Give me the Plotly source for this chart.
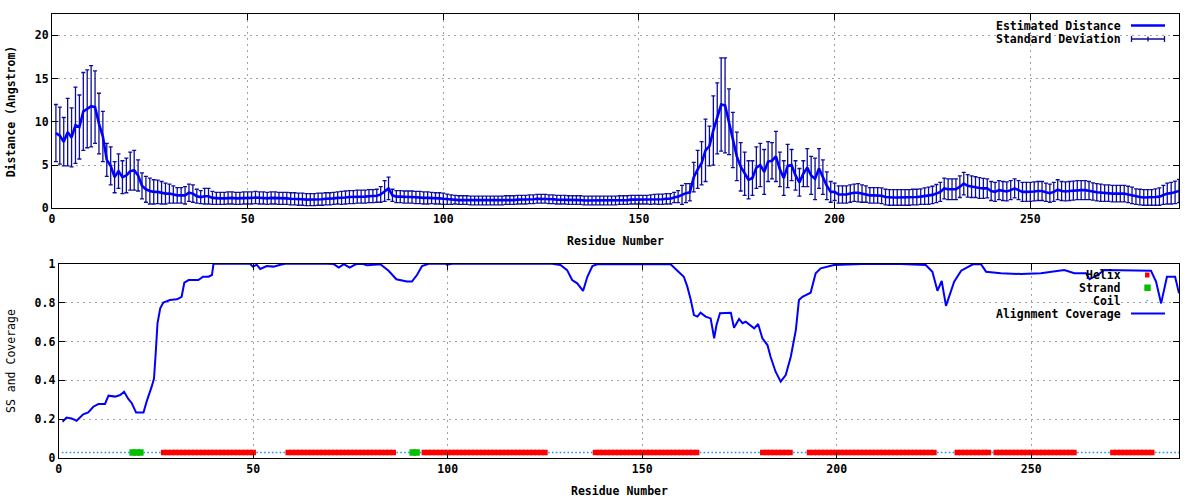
import plotly.graph_objects as go

# ---------------- data ----------------
residues = list(range(1, 289))

est_distance = [
    8.7, 8.4, 7.7, 8.8, 8.2, 9.6, 9.4, 11.2, 11.5, 11.8,
    11.7, 9.8, 8.3, 5.6, 4.9, 3.6, 4.3, 3.6, 3.8, 4.3,
    4.4, 3.8, 2.6, 2.2, 2.0, 1.9, 1.9, 1.8, 1.7, 1.7,
    1.6, 1.5, 1.5, 1.5, 1.8, 1.7, 1.4, 1.3, 1.4, 1.4,
    1.2, 1.15, 1.15, 1.15, 1.2, 1.2, 1.15, 1.15, 1.2, 1.2,
    1.2, 1.25, 1.2, 1.2, 1.15, 1.2, 1.2, 1.15, 1.15, 1.15,
    1.1, 1.1, 1.05, 1.05, 1.0, 1.0, 1.0, 1.05, 1.05, 1.1,
    1.1, 1.15, 1.2, 1.2, 1.25, 1.3, 1.3, 1.35, 1.35, 1.35,
    1.4, 1.4, 1.45, 1.6, 2.0, 2.3, 1.5, 1.35, 1.35, 1.3,
    1.3, 1.3, 1.25, 1.25, 1.2, 1.2, 1.2, 1.15, 1.15, 1.1,
    1.05, 1.0, 1.0, 0.95, 0.95, 0.95, 0.9, 0.9, 0.9, 0.9,
    0.9, 0.9, 0.9, 0.9, 0.9, 0.95, 0.95, 0.95, 1.0, 1.0,
    1.0, 1.05, 1.05, 1.1, 1.1, 1.1, 1.05, 1.05, 1.0, 1.0,
    1.0, 0.95, 0.95, 0.95, 0.95, 0.9, 0.9, 0.9, 0.9, 0.9,
    0.9, 0.9, 0.9, 0.9, 0.95, 0.95, 0.95, 1.0, 1.0, 1.0,
    1.0, 1.0, 1.0, 1.05, 1.05, 1.05, 1.1, 1.1, 1.25, 1.35,
    1.55, 1.75, 1.85, 3.6, 4.5, 5.2, 6.7, 7.2, 9.0, 10.4,
    12.0, 11.9, 10.0, 7.9, 6.0, 4.8, 4.0, 3.3, 3.5, 4.7,
    5.0, 4.2, 5.4, 5.5, 6.0, 4.5, 3.5, 4.9, 5.0, 3.8,
    3.0, 4.0, 4.7, 3.8, 3.4, 4.6, 3.6, 2.6, 1.9, 1.9,
    1.6, 1.6, 1.6, 1.7, 1.8, 1.8, 1.7, 1.65, 1.5, 1.5,
    1.5, 1.45, 1.3, 1.25, 1.25, 1.25, 1.25, 1.25, 1.25, 1.3,
    1.3, 1.35, 1.4, 1.45, 1.55, 1.7, 1.9, 2.3, 2.2, 2.2,
    2.2, 2.5, 2.85, 2.6, 2.5, 2.45, 2.35, 2.3, 2.3, 2.0,
    1.9, 2.1, 2.0, 1.95, 2.1, 2.3, 2.1, 1.9, 1.9, 1.9,
    1.95, 2.0, 2.0, 1.85, 1.75, 1.9, 2.15, 2.0, 1.95, 2.0,
    2.05, 2.1, 2.1, 2.1, 2.05, 1.95, 1.85, 1.8, 1.75, 1.75,
    1.7, 1.7, 1.7, 1.7, 1.6, 1.5, 1.35, 1.3, 1.25, 1.25,
    1.25, 1.3, 1.35, 1.55, 1.7, 1.75, 1.85, 2.0,
]

std_dev = [
    3.3, 3.3, 2.8, 3.9, 3.4, 4.4, 3.7, 4.5, 4.5, 4.7,
    4.2, 3.5, 2.9, 1.9, 2.2, 1.8, 2.0, 1.9, 2.0, 2.2,
    2.3, 1.8, 1.5, 1.5, 1.5, 1.4, 1.35, 1.3, 1.2, 1.1,
    1.0, 0.9, 0.9, 1.0, 1.0, 1.0, 0.8, 0.75, 0.9, 0.9,
    0.75, 0.7, 0.7, 0.7, 0.7, 0.7, 0.7, 0.7, 0.7, 0.7,
    0.7, 0.7, 0.7, 0.7, 0.7, 0.7, 0.7, 0.7, 0.7, 0.7,
    0.7, 0.7, 0.7, 0.7, 0.7, 0.7, 0.7, 0.7, 0.7, 0.7,
    0.7, 0.7, 0.7, 0.75, 0.75, 0.75, 0.75, 0.75, 0.75, 0.75,
    0.75, 0.75, 0.75, 0.9, 1.2, 1.3, 0.7, 0.7, 0.7, 0.7,
    0.7, 0.7, 0.7, 0.7, 0.7, 0.7, 0.65, 0.65, 0.65, 0.65,
    0.6, 0.55, 0.5, 0.5, 0.5, 0.5, 0.5, 0.5, 0.5, 0.5,
    0.5, 0.5, 0.5, 0.5, 0.5, 0.5, 0.5, 0.5, 0.5, 0.5,
    0.5, 0.5, 0.5, 0.5, 0.5, 0.5, 0.5, 0.5, 0.5, 0.5,
    0.5, 0.5, 0.5, 0.5, 0.5, 0.5, 0.5, 0.5, 0.5, 0.5,
    0.5, 0.5, 0.5, 0.5, 0.5, 0.5, 0.5, 0.5, 0.5, 0.5,
    0.5, 0.5, 0.55, 0.55, 0.6, 0.6, 0.6, 0.6, 0.6, 0.7,
    1.1, 1.1, 1.0, 1.7, 2.2, 2.5, 3.6, 2.3, 4.0, 4.1,
    5.4, 5.5, 3.8, 3.2, 2.8, 2.8, 2.5, 2.2, 2.0, 2.4,
    2.5, 2.6, 2.3, 2.1, 2.9, 2.0, 2.0, 2.5, 1.8, 1.7,
    1.6, 1.5, 2.2, 2.2, 2.4, 2.3, 2.0, 1.6, 1.2, 1.0,
    1.0, 1.0, 1.0, 1.0, 1.0, 1.05, 1.0, 0.95, 0.9, 0.9,
    0.9, 0.9, 0.9, 0.9, 0.9, 0.9, 0.9, 0.9, 0.9, 0.9,
    0.9, 0.9, 0.95, 1.0, 1.0, 1.05, 1.1, 1.2, 1.2, 1.2,
    1.2, 1.25, 1.3, 1.3, 1.25, 1.2, 1.2, 1.15, 1.1, 1.1,
    1.1, 1.1, 1.1, 1.1, 1.1, 1.1, 1.1, 1.1, 1.1, 1.1,
    1.1, 1.1, 1.1, 1.05, 1.05, 1.1, 1.15, 1.1, 1.1, 1.1,
    1.1, 1.1, 1.1, 1.1, 1.05, 1.0, 1.0, 1.0, 0.95, 0.95,
    0.95, 0.95, 0.95, 0.95, 0.95, 0.95, 0.9, 0.9, 0.9, 0.9,
    0.9, 0.95, 1.0, 1.1, 1.2, 1.25, 1.3, 1.35,
]

cov_residue = [
    1, 2, 3.3, 4.6, 6.3, 7.6, 8.9, 10.2, 11.9, 12.8, 14.5, 15.8, 16.8, 17.9,
    18.8, 19.9, 21.8, 22.6, 23.9, 24.5, 25.0, 25.4, 26.1, 26.9, 28.6, 30.4,
    31.6, 32.3, 33.4, 35.9, 37.1, 38.5, 39.4, 39.8, 49.2, 49.9, 50.9, 51.8,
    53.5, 55.2, 57, 58.2, 69, 70.7, 72, 73.3, 74.8, 76.3, 78, 79.3, 82.7,
    84.8, 86.8, 89.5, 90.8, 92.1, 93.4, 95.1, 99.4, 99.8, 101.1, 126.9, 129,
    130.7, 132, 133.3, 134.8, 135.9, 137.2, 138.4, 157.3, 159, 160.7, 161.6,
    162.5, 163.3, 164.2, 165, 166.3, 167.6, 168.5, 169.1, 170, 172.8, 173.6,
    174.9, 175.8, 176.6, 178.8, 179.8, 180.9, 182.2, 183.0, 184.3, 185.6,
    186.9, 188.2, 189.5, 190.3, 191.2, 193.3, 194.6, 195.9, 199.3, 203.6,
    208.3, 216.5, 222.9, 224.6, 225.9, 227, 228.1, 230.2, 232, 235, 237.1,
    238.4, 242.2, 247.4, 252.5, 258.5, 261.1, 264.1, 265, 267.1, 268.8,
    280.8, 282.1, 283.4, 284.9, 287, 288,
]
cov_value = [
    0.188, 0.209, 0.205, 0.193, 0.226, 0.236, 0.265, 0.279, 0.279, 0.322,
    0.317, 0.325, 0.342, 0.305, 0.283, 0.235, 0.235, 0.291, 0.368, 0.41,
    0.56, 0.694, 0.771, 0.80, 0.813, 0.817, 0.830, 0.903, 0.916, 0.916,
    0.933, 0.933, 0.942, 1.0, 1.0, 0.985, 0.995, 0.973, 0.988, 0.985,
    0.995, 1.0, 1.0, 0.998, 0.98, 0.998, 0.98, 0.997, 1.0, 0.992, 0.997,
    0.964, 0.92, 0.908, 0.908, 0.942, 0.988, 1.0, 1.0, 0.995, 1.0, 1.0,
    0.993, 0.967, 0.916, 0.899, 0.86, 0.933, 0.988, 0.997, 0.997, 0.964,
    0.933, 0.882, 0.813, 0.736, 0.728, 0.748, 0.728, 0.719, 0.617, 0.685,
    0.745, 0.748, 0.671, 0.716, 0.694, 0.702, 0.668, 0.690, 0.617, 0.582,
    0.522, 0.445, 0.394, 0.428, 0.522, 0.659, 0.813, 0.83, 0.851, 0.951,
    0.976, 0.993, 0.998, 1.0, 0.998, 0.993, 0.959, 0.861, 0.911, 0.783,
    0.908, 0.964, 0.997, 0.997, 0.959, 0.951, 0.947, 0.951, 0.968, 0.951,
    0.951, 0.92, 0.942, 0.968, 0.964, 0.908, 0.796, 0.933, 0.933, 0.848,
]

helix_segments = [(27, 50), (59, 86), (94, 125), (138, 164), (181, 188),
                  (193, 225), (231, 239), (241, 261), (271, 281)]
strand_segments = [(19, 21), (91, 92)]
ss_level = 0.03

x_ticks = [0, 50, 100, 150, 200, 250]
y_ticks_top = [0, 5, 10, 15, 20]
y_ticks_bottom = [0, 0.2, 0.4, 0.6, 0.8, 1]

# ---------------- derived SS lists ----------------
helix_res = [r for a, b in helix_segments for r in range(a, b + 1)]
strand_res = [r for a, b in strand_segments for r in range(a, b + 1)]
coil_res = [r for r in residues if r not in helix_res and r not in strand_res]

W, H = 1200, 500
FONT = "DejaVu Sans Mono"
FS = 11.5

def px(x):
    return x / W

def py(y):
    return 1 - y / H

fig = go.Figure()

# top plot
fig.add_trace(go.Scatter(
    x=residues, y=est_distance, mode="markers",
    marker=dict(size=1, color="rgba(0,0,0,0)"),
    error_y=dict(type="data", array=std_dev, visible=True,
                 color="#0c0c9c", thickness=1.3, width=2),
    xaxis="x", yaxis="y", showlegend=False, hoverinfo="skip"))
fig.add_trace(go.Scatter(
    x=residues, y=est_distance, mode="lines",
    line=dict(color="#0000ff", width=2.6),
    xaxis="x", yaxis="y", showlegend=False))

# bottom plot
fig.add_trace(go.Scatter(
    x=coil_res, y=[ss_level] * len(coil_res), mode="markers",
    marker=dict(symbol="square", size=1.6, color="#1e90ff", line=dict(width=0)),
    xaxis="x2", yaxis="y2", showlegend=False))
fig.add_trace(go.Scatter(
    x=helix_res, y=[ss_level] * len(helix_res), mode="markers",
    marker=dict(symbol="square", size=5.5, color="#ff0000", line=dict(width=0)),
    xaxis="x2", yaxis="y2", showlegend=False))
fig.add_trace(go.Scatter(
    x=strand_res, y=[ss_level] * len(strand_res), mode="markers",
    marker=dict(symbol="square", size=6.5, color="#00c000", line=dict(width=0)),
    xaxis="x2", yaxis="y2", showlegend=False))
fig.add_trace(go.Scatter(
    x=cov_residue, y=cov_value, mode="lines",
    line=dict(color="#0000ff", width=2),
    xaxis="x2", yaxis="y2", showlegend=False))

tickfont = dict(family=FONT, size=FS, color="black", weight="bold")
axis_common = dict(
    showline=True, linecolor="black", linewidth=1, mirror="allticks",
    ticks="inside", ticklen=6, tickcolor="black", tickwidth=1,
    showgrid=True, gridcolor="#a0a0a0", gridwidth=1, griddash="2px,4px",
    zeroline=False, tickfont=tickfont, fixedrange=True, automargin=False,
)

fig.update_layout(
    width=W, height=H,
    margin=dict(l=0, r=0, t=0, b=0, pad=0, autoexpand=False),
    paper_bgcolor="white", plot_bgcolor="white",
    xaxis=dict(domain=[52 / W, 1179 / W], range=[0, 288], tickvals=x_ticks,
               anchor="y", **axis_common),
    yaxis=dict(domain=[py(208.3), py(14.3)], range=[0, 22.43], tickvals=y_ticks_top,
               anchor="x", **axis_common),
    xaxis2=dict(domain=[58.7 / W, 1179 / W], range=[0, 288], tickvals=x_ticks,
                anchor="y2", **axis_common),
    yaxis2=dict(domain=[py(458.3), py(263.7)], range=[0, 1], tickvals=y_ticks_bottom,
                ticktext=["0", "0.2", "0.4", "0.6", "0.8", "1"],
                anchor="x2", **axis_common),
)

shapes = []
# opaque key boxes
shapes.append(dict(type="rect", xref="paper", yref="paper", layer="between",
                   x0=px(990), x1=px(1172), y0=py(47), y1=py(15),
                   fillcolor="white", line=dict(width=0)))
shapes.append(dict(type="rect", xref="paper", yref="paper", layer="between",
                   x0=px(997), x1=px(1172), y0=py(320), y1=py(266),
                   fillcolor="white", line=dict(width=0)))
# top key samples
shapes.append(dict(type="line", xref="paper", yref="paper",
                   x0=px(1131), x1=px(1165), y0=py(25.5), y1=py(25.5),
                   line=dict(color="#0000ff", width=2.5)))
sd_c = "#0c0c9c"
shapes.append(dict(type="line", xref="paper", yref="paper",
                   x0=px(1131), x1=px(1165), y0=py(39), y1=py(39),
                   line=dict(color=sd_c, width=1.3)))
for xx, h in ((1131.5, 3), (1164.5, 3), (1148, 2.5)):
    shapes.append(dict(type="line", xref="paper", yref="paper",
                       x0=px(xx), x1=px(xx), y0=py(39 + h), y1=py(39 - h),
                       line=dict(color=sd_c, width=1.3)))
# bottom key samples
shapes.append(dict(type="rect", xref="paper", yref="paper",
                   x0=px(1145), x1=px(1149.5), y0=py(277.5), y1=py(272.5),
                   fillcolor="#ff0000", line=dict(width=0)))
shapes.append(dict(type="rect", xref="paper", yref="paper",
                   x0=px(1144.3), x1=px(1150.7), y0=py(291), y1=py(284.5),
                   fillcolor="#00c000", line=dict(width=0)))
shapes.append(dict(type="rect", xref="paper", yref="paper",
                   x0=px(1146.5), x1=px(1147.8), y0=py(301.3), y1=py(300),
                   fillcolor="#1e90ff", line=dict(width=0)))
shapes.append(dict(type="line", xref="paper", yref="paper",
                   x0=px(1131), x1=px(1165), y0=py(313.5), y1=py(313.5),
                   line=dict(color="#0000ff", width=2)))
fig.update_layout(shapes=shapes)

annotations = []
def label(text, x, y, xanchor="right", angle=0, weight="bold"):
    annotations.append(dict(
        text=text, x=px(x), y=py(y), xref="paper", yref="paper",
        xanchor=xanchor, yanchor="middle", showarrow=False, textangle=angle,
        font=dict(family=FONT, size=FS, color="black", weight=weight)))

label("Estimated Distance", 1123, 26)
label("Standard Deviation", 1123, 39)
label("Helix", 1123, 275)
label("Strand", 1123, 288)
label("Coil", 1123, 300.7)
label("Alignment Coverage", 1123, 313.5)
label("Residue Number", 615.5, 240.7, xanchor="center")
label("Residue Number", 619, 490.7, xanchor="center")
label("Distance (Angstrom)", 11, 111.3, xanchor="center", angle=-90)
label("SS and Coverage", 11, 361, xanchor="center", angle=-90, weight="normal")
fig.update_layout(annotations=annotations)

fig.write_html(
    "out.html",
    config={"displayModeBar": False, "staticPlot": True},
    post_script="document.body.style.margin='0';document.body.style.overflow='hidden';",
)
